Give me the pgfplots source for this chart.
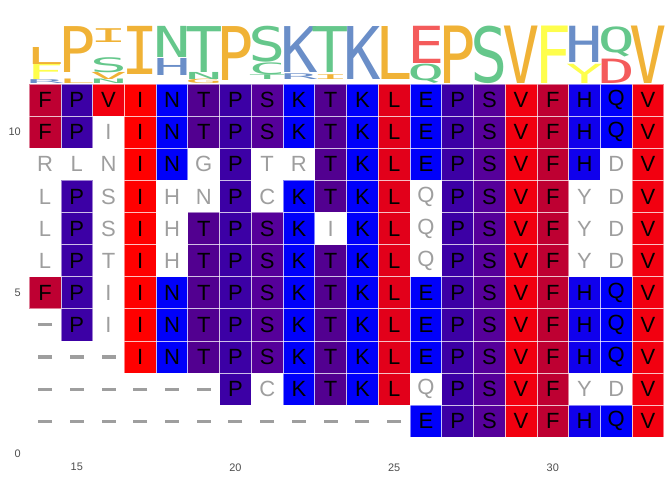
\documentclass[border=0pt]{standalone}
\usepackage{fontspec}
\setmainfont{Liberation Sans}
\newfontfamily\logofont{DejaVu Sans Mono}
\usepackage{pgfplots}
\pgfplotsset{compat=1.18}
\usepackage{pgfplotstable}
\usepackage{graphicx}

% cell colours (hydrophobicity)
\definecolor{cF}{HTML}{BE0032}
\definecolor{cP}{HTML}{3C00A5}
\definecolor{cV}{HTML}{F20010}
\definecolor{cI}{HTML}{FF0000}
\definecolor{cN}{HTML}{0000FA}
\definecolor{cT}{HTML}{520090}
\definecolor{cS}{HTML}{56009A}
\definecolor{cK}{HTML}{0000FA}
\definecolor{cL}{HTML}{E2001A}
\definecolor{cE}{HTML}{0000FA}
\definecolor{cH}{HTML}{1000EC}
\definecolor{cQ}{HTML}{0000FA}
% logo colours
\definecolor{lorange}{HTML}{F0B236}
\definecolor{lgreen}{HTML}{65C78B}
\definecolor{lblue}{HTML}{6A8EC8}
\definecolor{lred}{HTML}{F45B5B}
\definecolor{lyellow}{HTML}{FEFE4C}
\definecolor{gapgray}{HTML}{9E9E9E}
\definecolor{tick}{HTML}{4D4D4D}

\newlength\yu \setlength\yu{24.08pt}
% meta is colour:letter
\def\logoglyph#1:#2\relax{\color{#1}\logofont #2}

\pgfdeclareplotmark{cell}{%
  \pgfpathrectangle{\pgfpoint{-11.9pt}{-12.04pt}}{\pgfpoint{23.8pt}{24.08pt}}%
  \pgfusepathqfill}
\pgfdeclareplotmark{cellborder}{%
  \pgfpathrectangle{\pgfpoint{-11.9pt}{-12.04pt}}{\pgfpoint{23.8pt}{24.08pt}}%
  \pgfusepathqstroke}

\pgfplotstableread{
x y aa
14 11 F
15 11 P
16 11 V
17 11 I
18 11 N
19 11 T
20 11 P
21 11 S
22 11 K
23 11 T
24 11 K
25 11 L
26 11 E
27 11 P
28 11 S
29 11 V
30 11 F
31 11 H
32 11 Q
33 11 V
14 10 F
15 10 P
17 10 I
18 10 N
19 10 T
20 10 P
21 10 S
22 10 K
23 10 T
24 10 K
25 10 L
26 10 E
27 10 P
28 10 S
29 10 V
30 10 F
31 10 H
32 10 Q
33 10 V
17 9 I
18 9 N
20 9 P
23 9 T
24 9 K
25 9 L
26 9 E
27 9 P
28 9 S
29 9 V
30 9 F
31 9 H
33 9 V
15 8 P
17 8 I
20 8 P
22 8 K
23 8 T
24 8 K
25 8 L
27 8 P
28 8 S
29 8 V
30 8 F
33 8 V
15 7 P
17 7 I
19 7 T
20 7 P
21 7 S
22 7 K
24 7 K
25 7 L
27 7 P
28 7 S
29 7 V
30 7 F
33 7 V
15 6 P
17 6 I
19 6 T
20 6 P
21 6 S
22 6 K
23 6 T
24 6 K
25 6 L
27 6 P
28 6 S
29 6 V
30 6 F
33 6 V
14 5 F
15 5 P
17 5 I
18 5 N
19 5 T
20 5 P
21 5 S
22 5 K
23 5 T
24 5 K
25 5 L
26 5 E
27 5 P
28 5 S
29 5 V
30 5 F
31 5 H
32 5 Q
33 5 V
15 4 P
17 4 I
18 4 N
19 4 T
20 4 P
21 4 S
22 4 K
23 4 T
24 4 K
25 4 L
26 4 E
27 4 P
28 4 S
29 4 V
30 4 F
31 4 H
32 4 Q
33 4 V
17 3 I
18 3 N
19 3 T
20 3 P
21 3 S
22 3 K
23 3 T
24 3 K
25 3 L
26 3 E
27 3 P
28 3 S
29 3 V
30 3 F
31 3 H
32 3 Q
33 3 V
20 2 P
22 2 K
23 2 T
24 2 K
25 2 L
27 2 P
28 2 S
29 2 V
30 2 F
33 2 V
26 1 E
27 1 P
28 1 S
29 1 V
30 1 F
31 1 H
32 1 Q
33 1 V
}\colcells

\pgfplotstableread{
x y aa
16 10 I
14 9 R
15 9 L
16 9 N
19 9 G
21 9 T
22 9 R
32 9 D
14 8 L
16 8 S
18 8 H
19 8 N
21 8 C
26 8 Q
31 8 Y
32 8 D
14 7 L
16 7 S
18 7 H
23 7 I
26 7 Q
31 7 Y
32 7 D
14 6 L
16 6 T
18 6 H
26 6 Q
31 6 Y
32 6 D
16 5 I
16 4 I
21 2 C
26 2 Q
31 2 Y
32 2 D
}\graycells

\pgfplotstableread{
x y
14 4
14 3
15 3
16 3
14 2
15 2
16 2
17 2
18 2
19 2
14 1
15 1
16 1
17 1
18 1
19 1
20 1
21 1
22 1
23 1
24 1
25 1
}\gaps

% logo: x, bottom, height, colour:letter
\pgfplotstableread{
x y h g
14 11.50 0.12 lblue:R
14 11.62 0.48 lyellow:F
14 12.10 0.53 lorange:L
15 11.50 0.14 lorange:L
15 11.85 1.43 lorange:P
16 11.50 0.14 lgreen:N
16 11.64 0.22 lorange:V
16 11.85 0.47 lgreen:S
16 12.79 0.43 lorange:I
17 11.79 1.50 lorange:I
18 11.76 0.53 lblue:H
18 12.32 0.97 lgreen:N
19 11.50 0.14 lorange:G
19 11.64 0.22 lgreen:N
19 11.85 1.43 lgreen:T
20 11.60 1.68 lorange:P
21 11.64 0.15 lgreen:T
21 11.79 0.37 lgreen:C
21 12.16 1.12 lgreen:S
22 11.64 0.18 lblue:R
22 11.85 1.43 lblue:K
23 11.64 0.15 lorange:I
23 11.85 1.43 lgreen:T
24 11.64 1.65 lblue:K
25 11.64 1.65 lorange:L
26 11.50 0.60 lgreen:Q
26 12.13 1.16 lred:E
27 11.50 1.79 lorange:P
28 11.50 1.79 lgreen:S
29 11.50 1.79 lorange:V
30 11.50 1.79 lyellow:F
31 11.50 0.60 lyellow:Y
31 12.16 1.13 lblue:H
32 11.50 0.76 lred:D
32 12.32 0.94 lgreen:Q
33 11.50 1.79 lorange:V
}\logo

\begin{document}
\begin{tikzpicture}
\begin{axis}[
  x=23.8pt, y=24.08pt,
  xmin=13.45, xmax=33.55, ymin=-0.1, ymax=13.9,
  axis line style={draw=none},
  major tick style={draw=none},
  xtick={15,20,25,30}, ytick={0,5,10},
  ticklabel style={font=\fontsize{8.2}{10}\selectfont, text=tick},
  /pgf/number format/assume math mode=true,
  xticklabel style={inner sep=0pt, yshift=-5pt},
  yticklabel style={inner sep=0pt, xshift=-5pt},
  clip=false,
]
% coloured cells
\addplot[scatter, only marks, mark=cell,
  point meta=explicit symbolic,
  scatter/classes={
    F={cF}, P={cP}, V={cV}, I={cI},
    N={cN}, T={cT}, S={cS}, K={cK},
    L={cL}, E={cE}, H={cH}, Q={cQ}}]
  table[x=x, y=y, meta=aa] {\colcells};
% light cell borders and letters
\addplot[only marks, mark=cellborder, white, opacity=0.5,
  mark options={line width=0.6pt}]
  table[x=x, y=y] {\colcells};
\addplot[only marks, mark=none, point meta=explicit symbolic,
  nodes near coords,
  every node near coord/.append style={anchor=center, inner sep=0pt,
    text=black, font=\fontsize{16.5}{17}\selectfont}]
  table[x=x, y=y, meta=aa] {\colcells};
% unconserved residues
\addplot[only marks, mark=none, point meta=explicit symbolic,
  nodes near coords,
  every node near coord/.append style={anchor=center, inner sep=0pt,
    text=gapgray, font=\fontsize{16.5}{17}\selectfont}]
  table[x=x, y=y, meta=aa] {\graycells};
% gaps
\addplot[only marks, mark=-, mark size=5.25pt, gapgray,
  mark options={line width=2.3pt}]
  table[x=x, y=y] {\gaps};
% sequence logo
\addplot[only marks, mark=none, point meta=explicit symbolic,
  visualization depends on={\thisrow{h} \as \hgt},
  nodes near coords={\pgfmathsetlengthmacro\hh{\hgt*\yu}%
    \resizebox*{28pt}{\hh}{\expandafter\logoglyph\pgfplotspointmeta\relax}},
  every node near coord/.append style={anchor=south, inner sep=0pt}]
  table[x=x, y=y, meta=g] {\logo};
\end{axis}
\pgfresetboundingbox
\path[use as bounding box] ([shift={(-20.7pt,-17.65pt)}]current axis.south west)
  rectangle ([shift={(4.9pt,5.25pt)}]current axis.north east);
\end{tikzpicture}
\end{document}
